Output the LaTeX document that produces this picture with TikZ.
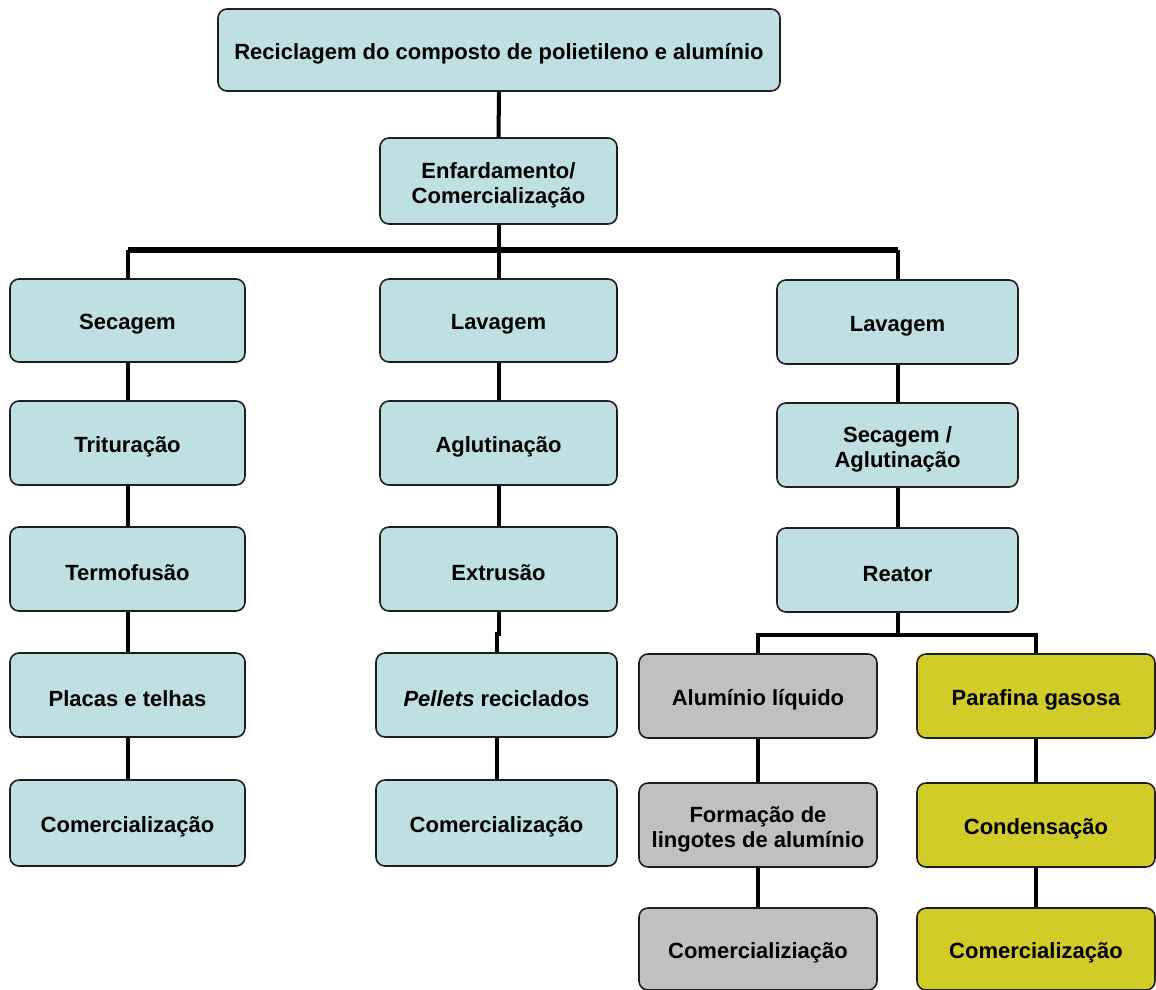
\documentclass[tikz,border=0pt]{standalone}
\usepackage{fontspec}
\setmainfont{Liberation Sans}
\definecolor{boxblue}{HTML}{BEE0E2}
\definecolor{boxgray}{HTML}{C0C0C0}
\definecolor{boxyellow}{HTML}{D2CC28}
\definecolor{edge}{HTML}{1E1E1E}
\tikzset{
  lab/.style={align=center, inner sep=0pt, text=black, yshift=-4pt,
    font=\fontsize{22}{25}\selectfont\bfseries},
  box/.style={draw=edge, line width=1.6pt, rounded corners=9pt, fill=boxblue,
    inner sep=0pt, label={[lab]center:{#1}}},
  gbox/.style={box={#1}, fill=boxgray},
  ybox/.style={box={#1}, fill=boxyellow},
  conn/.style={line width=4pt, black},
  bar/.style={line width=6pt, black},
}
\begin{document}
\begin{tikzpicture}[x=1pt,y=-1pt]
\useasboundingbox (0,0) rectangle (1156,989);
% top
\node[box={Reciclagem do composto de polietileno e alumínio}, minimum width=562pt, minimum height=82pt] (top) at (499,50) {};
\node[box={Enfardamento/\\Comercialização}, minimum width=237pt, minimum height=86pt] (enf) at (498.5,181) {};
% column 1
\node[box={Secagem}, minimum width=235pt, minimum height=83pt] (a1) at (127.5,320.5) {};
\node[box={Trituração}, minimum width=235pt, minimum height=84pt] (a2) at (127.5,443) {};
\node[box={Termofusão}, minimum width=235pt, minimum height=84pt] (a3) at (127.5,569) {};
\node[box={Placas e telhas}, minimum width=235pt, minimum height=84pt] (a4) at (127.5,695) {};
\node[box={Comercialização}, minimum width=235pt, minimum height=86pt] (a5) at (127.5,823) {};
% column 2
\node[box={Lavagem}, minimum width=237pt, minimum height=83pt] (b1) at (498.5,320.5) {};
\node[box={Aglutinação}, minimum width=237pt, minimum height=84pt] (b2) at (498.5,443) {};
\node[box={Extrusão}, minimum width=237pt, minimum height=84pt] (b3) at (498.5,569) {};
\node[box={\textit{Pellets} reciclados}, minimum width=241pt, minimum height=84pt] (b4) at (496.5,695) {};
\node[box={Comercialização}, minimum width=241pt, minimum height=86pt] (b5) at (496.5,823) {};
% column 3
\node[box={Lavagem}, minimum width=241pt, minimum height=84pt] (c1) at (897.5,322) {};
\node[box={Secagem /\\Aglutinação}, minimum width=241pt, minimum height=84pt] (c2) at (897.5,445) {};
\node[box={Reator}, minimum width=241pt, minimum height=84pt] (c3) at (897.5,570) {};
% sub columns
\node[gbox={Alumínio líquido}, minimum width=238pt, minimum height=84pt] (d1) at (758,696) {};
\node[gbox={Formação de\\lingotes de alumínio}, minimum width=238pt, minimum height=84pt] (d2) at (758,825) {};
\node[gbox={Comercializiação}, minimum width=238pt, minimum height=82pt] (d3) at (758,949) {};
\node[ybox={Parafina gasosa}, minimum width=238pt, minimum height=84pt] (e1) at (1036,696) {};
\node[ybox={Condensação}, minimum width=238pt, minimum height=84pt] (e2) at (1036,825) {};
\node[ybox={Comercialização}, minimum width=238pt, minimum height=82pt] (e3) at (1036,949) {};
% connectors
\coordinate (j1) at (498.5,250);
\coordinate (j2) at (897.5,635);
\draw[conn] (top.south) -- (enf.north);
\draw[conn] (enf.south) -- (j1);
\draw[bar] (a1.north |- j1) -- (c1.north |- j1);
\draw[conn] (a1.north) -- (a1.north |- j1);
\draw[conn] (b1.north) -- (j1);
\draw[conn] (c1.north) -- (c1.north |- j1);
\draw[conn] (a1) -- (a2);
\draw[conn] (a2) -- (a3);
\draw[conn] (a3) -- (a4);
\draw[conn] (a4) -- (a5);
\draw[conn] (b1) -- (b2);
\draw[conn] (b2) -- (b3);
\draw[conn] (b3.south) -- ++(0,22) -| (b4.north);
\draw[conn] (b4) -- (b5);
\draw[conn] (c1) -- (c2);
\draw[conn] (c2) -- (c3);
\draw[conn] (c3.south) -- (j2);
\draw[conn] (d1.north) |- (j2) -| (e1.north);
\draw[conn] (d1) -- (d2);
\draw[conn] (d2) -- (d3);
\draw[conn] (e1) -- (e2);
\draw[conn] (e2) -- (e3);
\end{tikzpicture}
\end{document}
